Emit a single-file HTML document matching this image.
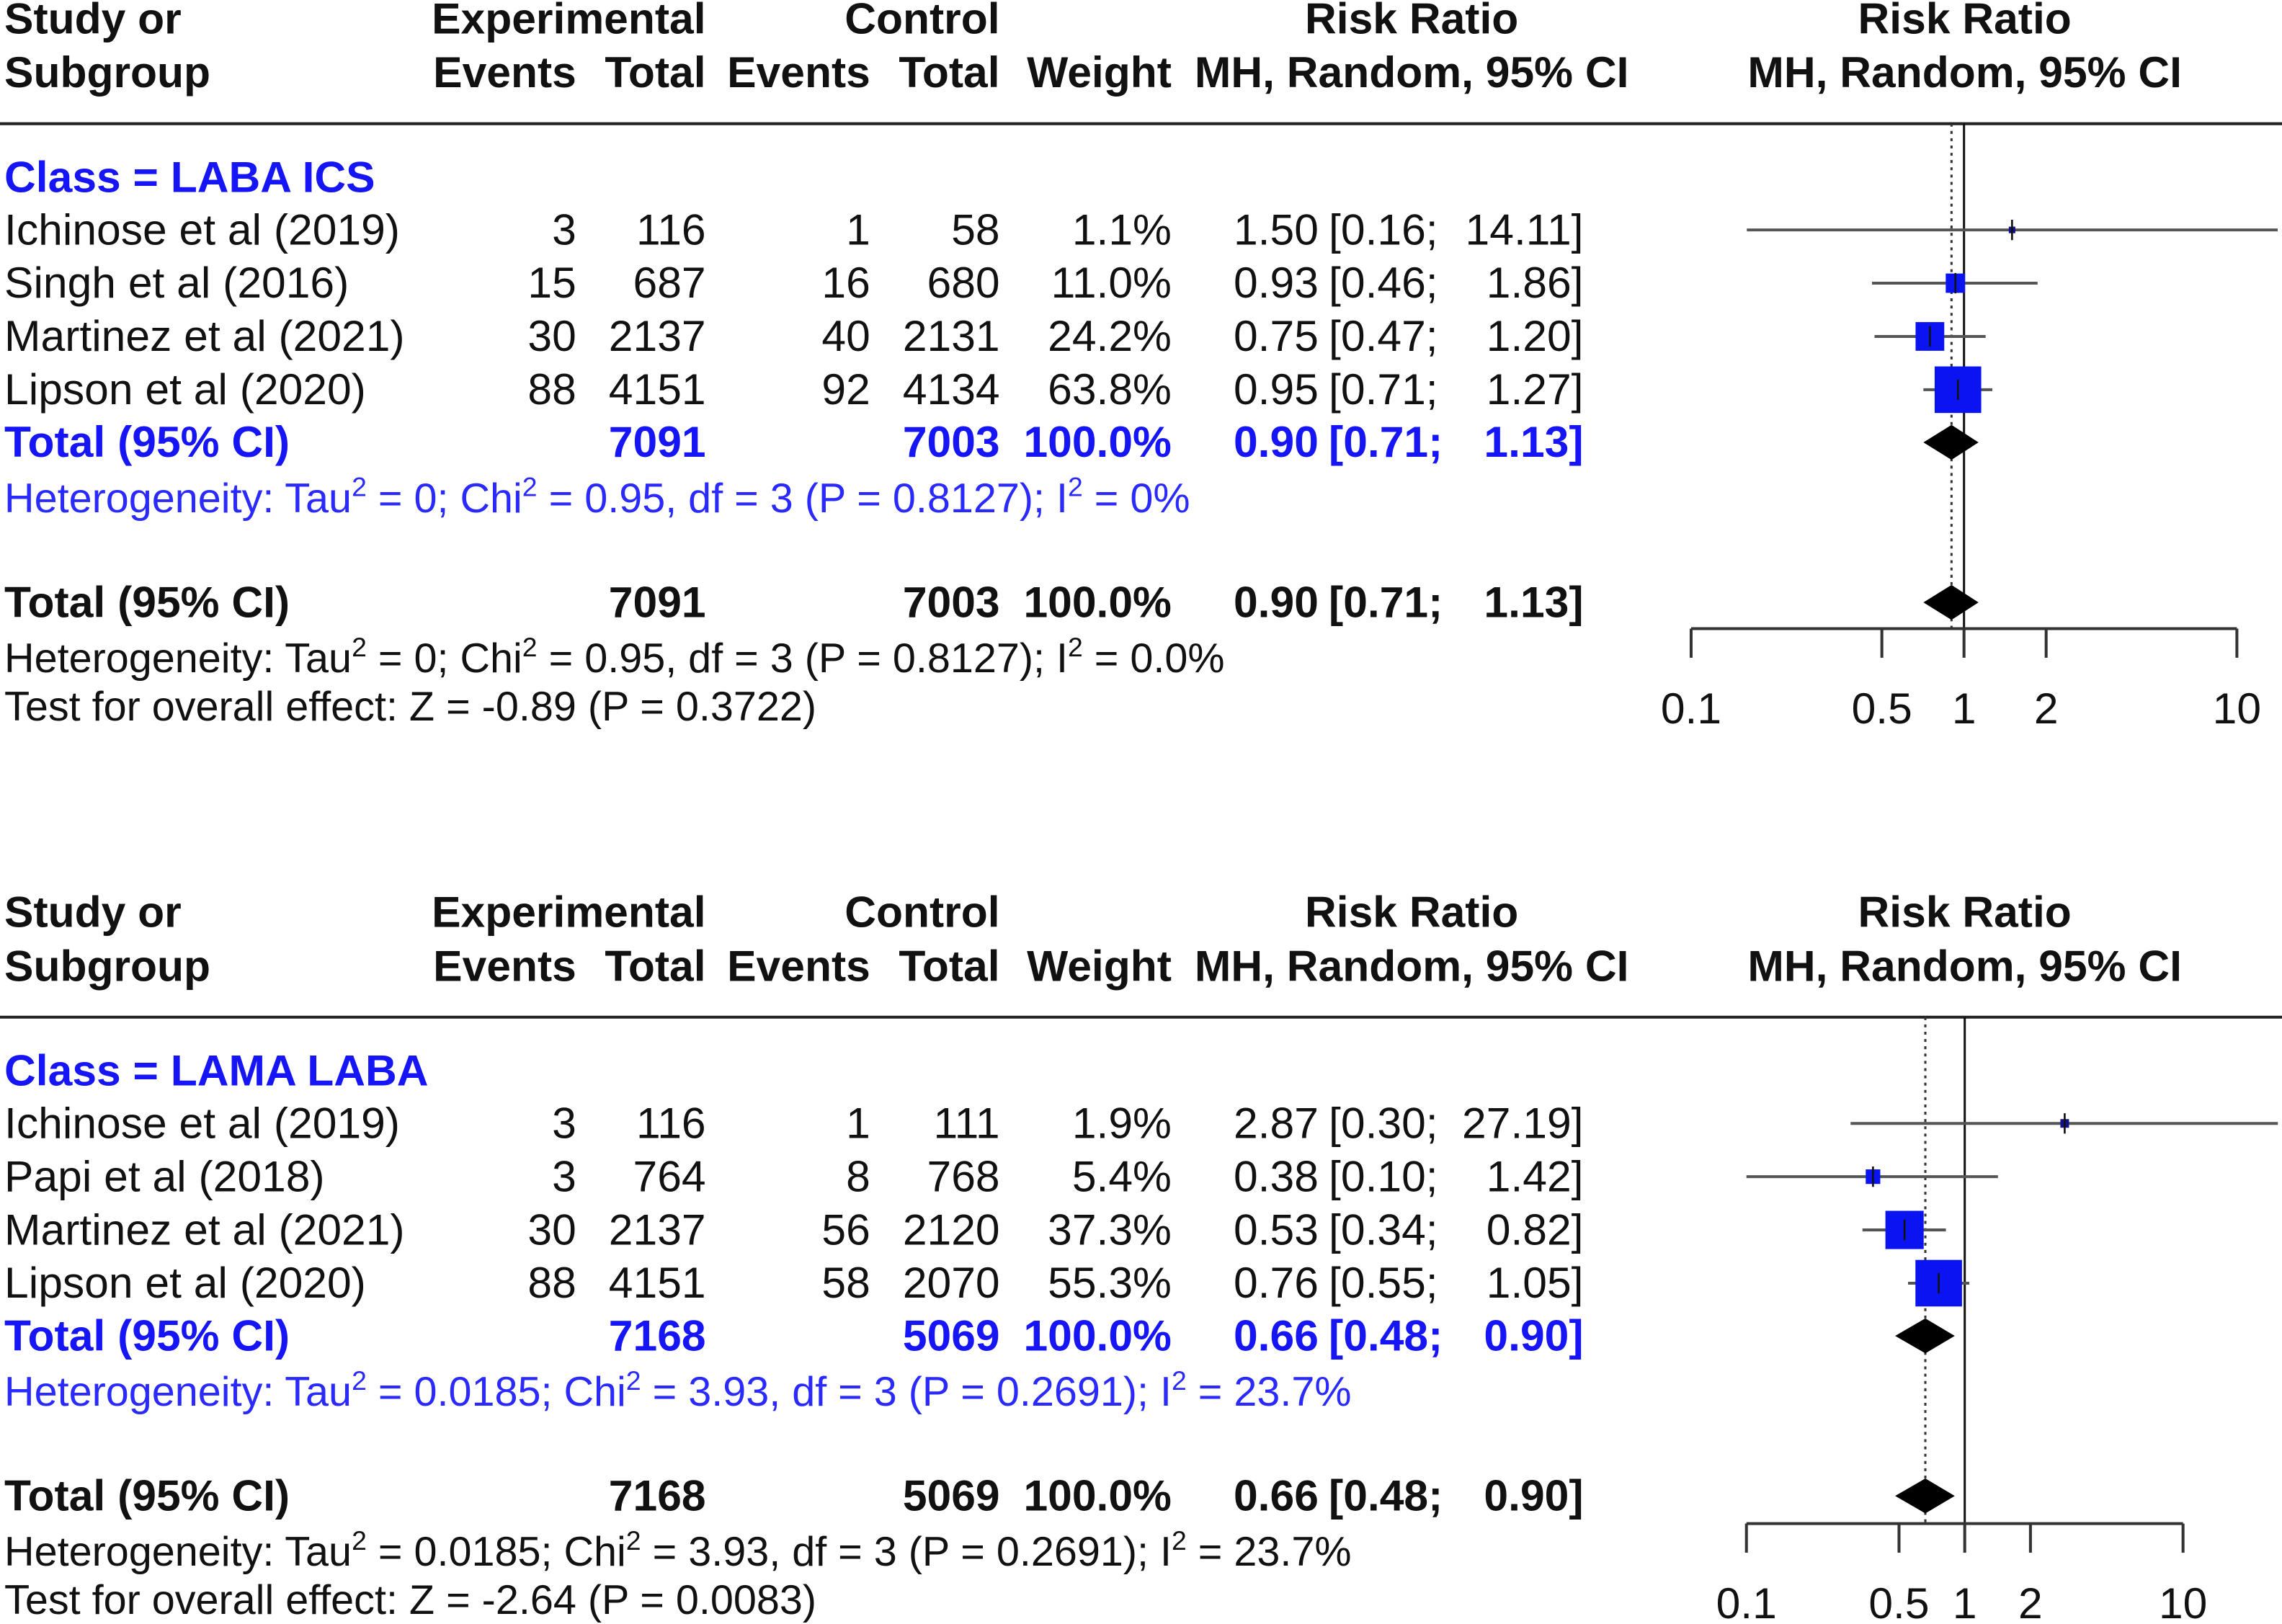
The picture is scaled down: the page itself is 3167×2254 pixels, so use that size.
<!DOCTYPE html>
<html><head><meta charset="utf-8">
<style>
html,body{margin:0;padding:0;background:#fff;}
svg{display:block;}
text{font-family:"Liberation Sans",Arial,sans-serif;white-space:pre;}
</style></head>
<body>
<svg id="chart" width="3167" height="2254" viewBox="0 0 1568 1116" preserveAspectRatio="none" xmlns="http://www.w3.org/2000/svg"></svg>
<script>
// ---- Panel 1 data: LABA ICS ----
const p1Studies = ["Ichinose et al (2019)","Singh et al (2016)","Martinez et al (2021)","Lipson et al (2020)"];
const p1ExpEvents = [3,15,30,88];
const p1ExpTotal = [116,687,2137,4151];
const p1CtlEvents = [1,16,40,92];
const p1CtlTotal = [58,680,2131,4134];
const p1Weight = [1.1,11.0,24.2,63.8];
const p1RR = [1.50,0.93,0.75,0.95];
const p1Lo = [0.16,0.46,0.47,0.71];
const p1Hi = [14.11,1.86,1.20,1.27];
const p1Pooled = [0.90,0.71,1.13];
const p1Totals = [7091,7003];
// ---- Panel 2 data: LAMA LABA ----
const p2Studies = ["Ichinose et al (2019)","Papi et al (2018)","Martinez et al (2021)","Lipson et al (2020)"];
const p2ExpEvents = [3,3,30,88];
const p2ExpTotal = [116,764,2137,4151];
const p2CtlEvents = [1,8,56,58];
const p2CtlTotal = [111,768,2120,2070];
const p2Weight = [1.9,5.4,37.3,55.3];
const p2RR = [2.87,0.38,0.53,0.76];
const p2Lo = [0.30,0.10,0.34,0.55];
const p2Hi = [27.19,1.42,0.82,1.05];
const p2Pooled = [0.66,0.48,0.90];
const p2Totals = [7168,5069];
const tickValues = [0.1,0.5,1,2,10];
const tickLabels = ["0.1","0.5","1","2","10"];

const FS=30, HFS=28.5;
const NS="http://www.w3.org/2000/svg";
const svg=document.getElementById('chart');
function mk(tag,attrs,parent){const e=document.createElementNS(NS,tag);for(const k in attrs)e.setAttribute(k,attrs[k]);(parent||svg).appendChild(e);return e;}
function txt(x,y,s,opt){opt=opt||{};const t=mk('text',{x:x,y:y,'font-size':opt.size||FS,'font-weight':opt.bold?'bold':'normal',fill:opt.fill||'#111','text-anchor':opt.anchor||'start'});t.textContent=s;return t;}
function f2(v){return v.toFixed(2);}
function supText(x,y,parts,size,fill,name){
  const t=mk('text',{x:x,y:y,'font-size':size,fill:fill});
  
  
  parts.forEach(p=>{const s=document.createElementNS(NS,'tspan');
    if(p.sup){s.setAttribute('font-size',size*0.65);s.setAttribute('dy',-11);}
    else if(p.after){s.setAttribute('dy',11);}
    s.textContent=p.t;t.appendChild(s);});
  return t;
}

function panel(o){
  const g=mk('g',{});
  
  
  const Y=o.y0;
  const scale=v=>o.x1+o.dec*(Math.log10(v)+1);
  const hdr=[["Study or",3,Y+23,'start'],["Subgroup",3,Y+60,'start'],["Experimental",485,Y+23,'end'],["Events",396,Y+60,'end'],["Total",485,Y+60,'end'],
    ["Control",687,Y+23,'end'],["Events",598,Y+60,'end'],["Total",687,Y+60,'end'],["Weight",805,Y+60,'end'],["Risk Ratio",970,Y+23,'middle'],["MH, Random, 95% CI",970,Y+60,'middle'],
    ["Risk Ratio",1350,Y+23,'middle'],["MH, Random, 95% CI",1350,Y+60,'middle']];
  hdr.forEach(h=>{const t=txt(h[1],h[2],h[0],{bold:true,anchor:h[3]});g.appendChild(t);
    
    });
  const hl=mk('line',{x1:0,x2:1568,y1:Y+85,y2:Y+85,stroke:'#222','stroke-width':2},g);
  
  
  const cl=txt(3,Y+132,o.cls,{bold:true,fill:'#1515f5'});g.appendChild(cl);
  
  
  const top=Y+85, axY=o.axY;
  const nl=mk('line',{x1:scale(1),x2:scale(1),y1:top,y2:axY,stroke:'#111','stroke-width':1.5},g);
  
  
  const dl=mk('line',{x1:scale(o.pooled[0]),x2:scale(o.pooled[0]),y1:top,y2:axY,stroke:'#333','stroke-width':1.5,'stroke-dasharray':'2,3'},g);
  
  
  const maxW=Math.max(...o.weight);
  o.studies.forEach((s,i)=>{
    const by=Y+168+i*36.6, cy=by-10;
    const r=txt(3,by,s);g.appendChild(r);
    
    
    [[o.ee[i],396,'end'],[o.et[i],485,'end'],[o.ce[i],598,'end'],[o.ct[i],687,'end'],[o.weight[i].toFixed(1)+'%',805,'end'],[f2(o.rr[i]),906,'end'],['['+f2(o.lo[i])+';',913,'start'],[f2(o.hi[i])+']',1088,'end']].forEach(c=>{
      const t=txt(c[1],by,String(c[0]),{anchor:c[2]});g.appendChild(t);
      
      });
    const x1=Math.max(scale(o.lo[i]),0), x2=Math.min(scale(o.hi[i]),1566);
    const ci=mk('line',{x1:x1,x2:x2,y1:cy,y2:cy,stroke:'#555','stroke-width':2},g);
    
    
    const sz=Math.max(4.5,32*Math.sqrt(o.weight[i]/maxW)), cx=scale(o.rr[i]);
    const sq=mk('rect',{x:cx-sz/2,y:cy-sz/2,width:sz,height:sz,fill:sz<6?'#10108a':'#0a14f0'},g);
    
    
    const tk=mk('line',{x1:cx,x2:cx,y1:cy-7,y2:cy+7,stroke:'#111','stroke-width':1.3},g);
    
    
  });
  [[Y+314,'#1515f5','subgroup-total'],[Y+424,'#111','overall-total']].forEach(r=>{
    const by=r[0];
    [["Total (95% CI)",3,'start'],[String(o.totals[0]),485,'end'],[String(o.totals[1]),687,'end'],["100.0%",805,'end'],[f2(o.pooled[0]),906,'end'],['['+f2(o.pooled[1])+';',913,'start'],[f2(o.pooled[2])+']',1088,'end']].forEach(c=>{
      const t=txt(c[1],by,c[0],{bold:true,fill:r[1],anchor:c[2]});g.appendChild(t);
      
      });
    const cy=by-10,l=scale(o.pooled[1]),h=scale(o.pooled[2]),m=scale(o.pooled[0]);
    const d=mk('polygon',{points:`${l},${cy} ${m},${cy-12} ${h},${cy} ${m},${cy+12}`,fill:'#000'},g);
    
    
  });
  g.appendChild(supText(3,Y+352,o.het1,HFS,'#2a2aff','subgroup-heterogeneity'));
  g.appendChild(supText(3,Y+462,o.het2,HFS,'#111','overall-heterogeneity'));
  const te=txt(3,Y+495,o.test,{size:HFS});g.appendChild(te);
  
  
  const ax=mk('line',{x1:scale(0.1),x2:scale(10),y1:axY,y2:axY,stroke:'#333','stroke-width':2},g);
  
  
  tickValues.forEach((v,i)=>{
    const x=scale(v);
    const tl=mk('line',{x1:x,x2:x,y1:axY,y2:axY+20,stroke:'#333','stroke-width':2},g);
    
    
    const t=txt(x,axY+65,tickLabels[i],{anchor:'middle'});g.appendChild(t);
    
    
  });
}
panel({name:'panel-laba-ics',y0:0,x1:1162,dec:187.5,axY:432,cls:'Class = LABA ICS',studies:p1Studies,ee:p1ExpEvents,et:p1ExpTotal,ce:p1CtlEvents,ct:p1CtlTotal,weight:p1Weight,rr:p1RR,lo:p1Lo,hi:p1Hi,pooled:p1Pooled,totals:p1Totals,
  het1:[{t:'Heterogeneity: Tau'},{t:'2',sup:1},{t:' = 0; Chi',after:1},{t:'2',sup:1},{t:' = 0.95, df = 3 (P = 0.8127); I',after:1},{t:'2',sup:1},{t:' = 0%',after:1}],
  het2:[{t:'Heterogeneity: Tau'},{t:'2',sup:1},{t:' = 0; Chi',after:1},{t:'2',sup:1},{t:' = 0.95, df = 3 (P = 0.8127); I',after:1},{t:'2',sup:1},{t:' = 0.0%',after:1}],
  test:'Test for overall effect: Z = -0.89 (P = 0.3722)'});
panel({name:'panel-lama-laba',y0:614,x1:1200,dec:150,axY:1047,cls:'Class = LAMA LABA',studies:p2Studies,ee:p2ExpEvents,et:p2ExpTotal,ce:p2CtlEvents,ct:p2CtlTotal,weight:p2Weight,rr:p2RR,lo:p2Lo,hi:p2Hi,pooled:p2Pooled,totals:p2Totals,
  het1:[{t:'Heterogeneity: Tau'},{t:'2',sup:1},{t:' = 0.0185; Chi',after:1},{t:'2',sup:1},{t:' = 3.93, df = 3 (P = 0.2691); I',after:1},{t:'2',sup:1},{t:' = 23.7%',after:1}],
  het2:[{t:'Heterogeneity: Tau'},{t:'2',sup:1},{t:' = 0.0185; Chi',after:1},{t:'2',sup:1},{t:' = 3.93, df = 3 (P = 0.2691); I',after:1},{t:'2',sup:1},{t:' = 23.7%',after:1}],
  test:'Test for overall effect: Z = -2.64 (P = 0.0083)'});
</script>
</body></html>
